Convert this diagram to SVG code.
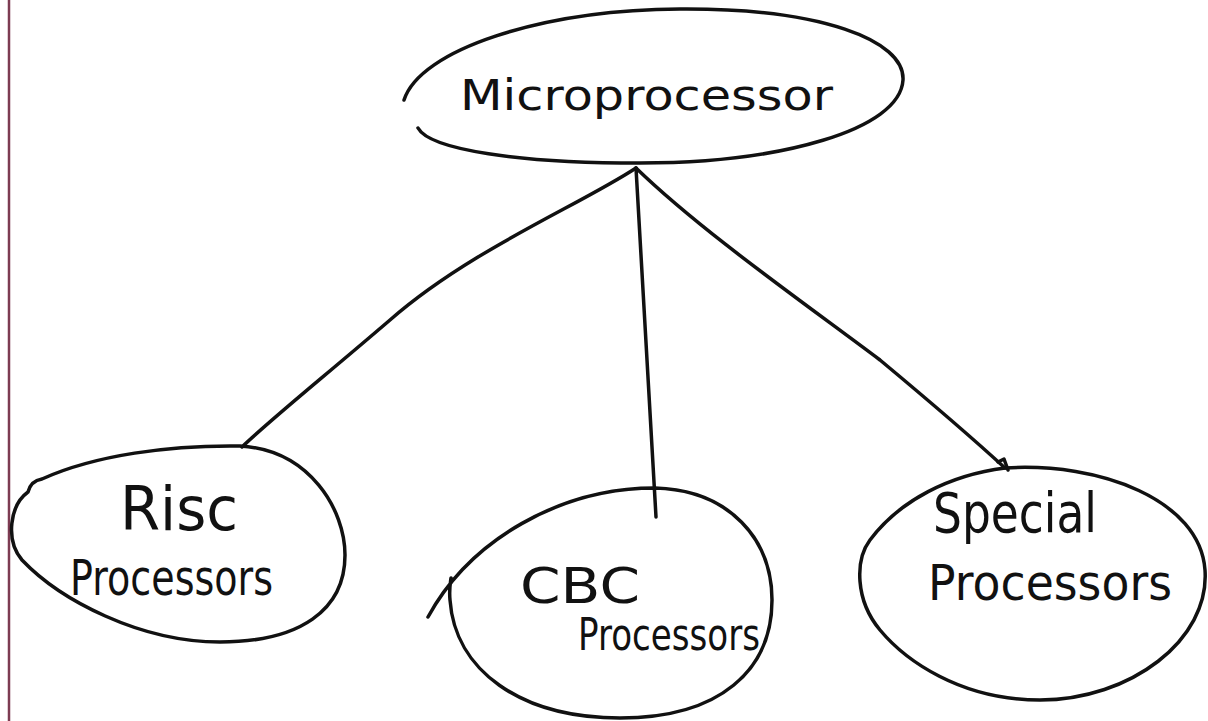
<svg xmlns="http://www.w3.org/2000/svg" width="1208" height="721" viewBox="0 0 1208 721">
<style>
.s{fill:none;stroke:#111;stroke-width:3.5;stroke-linecap:round;stroke-linejoin:round}
.t{font-family:"DejaVu Sans","Liberation Sans",sans-serif;fill:#111;text-anchor:start}
</style>
<rect width="1208" height="721" fill="#ffffff"/>
<line x1="9" y1="0" x2="9" y2="721" stroke="#7d3b52" stroke-width="2.5"/>
<g id="connectors">
<path class="s" d="M636,168 C580,205 470,250 390,320 C320,380 270,420 242,447"/>
<path class="s" d="M636,168 L656,517"/>
<path class="s" d="M636,168 C700,230 800,300 880,360 C940,410 980,445 1005,468"/>
<path class="s" d="M998,462 L1004,459 L1008,470"/>
</g>
<g id="microprocessor">
<path class="s" d="M404,100 C420,50 540,10 680,9 C820,8 905,40 903,80 C900,130 780,163 640,163 C520,163 430,150 418,128"/>
<text class="t" x="460" y="110" font-size="42" textLength="373" lengthAdjust="spacingAndGlyphs">Microprocessor</text>
</g>
<g id="risc">
<path class="s" d="M28,492 C30,484 36,480 42,479 C95,455 170,445 240,446 C310,450 345,510 345,555 C345,610 300,642 220,642 C140,642 60,600 22,560 C5,540 10,505 28,492"/>
<text class="t" x="120" y="530" font-size="60" textLength="118" lengthAdjust="spacingAndGlyphs">Risc</text>
<text class="t" x="70" y="595" font-size="50" textLength="203" lengthAdjust="spacingAndGlyphs">Processors</text>
</g>
<g id="cbc">
<path class="s" d="M428,617 C470,540 560,488 655,488 C730,490 772,540 772,600 C772,670 720,718 620,718 C520,718 455,670 450,600 C449,590 450,585 451,578"/>
<text class="t" x="520" y="603" font-size="50" textLength="120" lengthAdjust="spacingAndGlyphs">CBC</text>
<text class="t" x="578" y="650" font-size="44" textLength="182" lengthAdjust="spacingAndGlyphs">Processors</text>
</g>
<g id="special">
<path class="s" d="M1005,468 C1100,462 1200,500 1205,570 C1210,640 1130,700 1040,700 C960,700 905,660 880,630 C855,600 855,560 870,540 C900,500 950,475 1005,468 Z"/>
<text class="t" x="933" y="532" font-size="56" textLength="164" lengthAdjust="spacingAndGlyphs">Special</text>
<text class="t" x="928" y="600" font-size="50" textLength="244" lengthAdjust="spacingAndGlyphs">Processors</text>
</g>
</svg>
